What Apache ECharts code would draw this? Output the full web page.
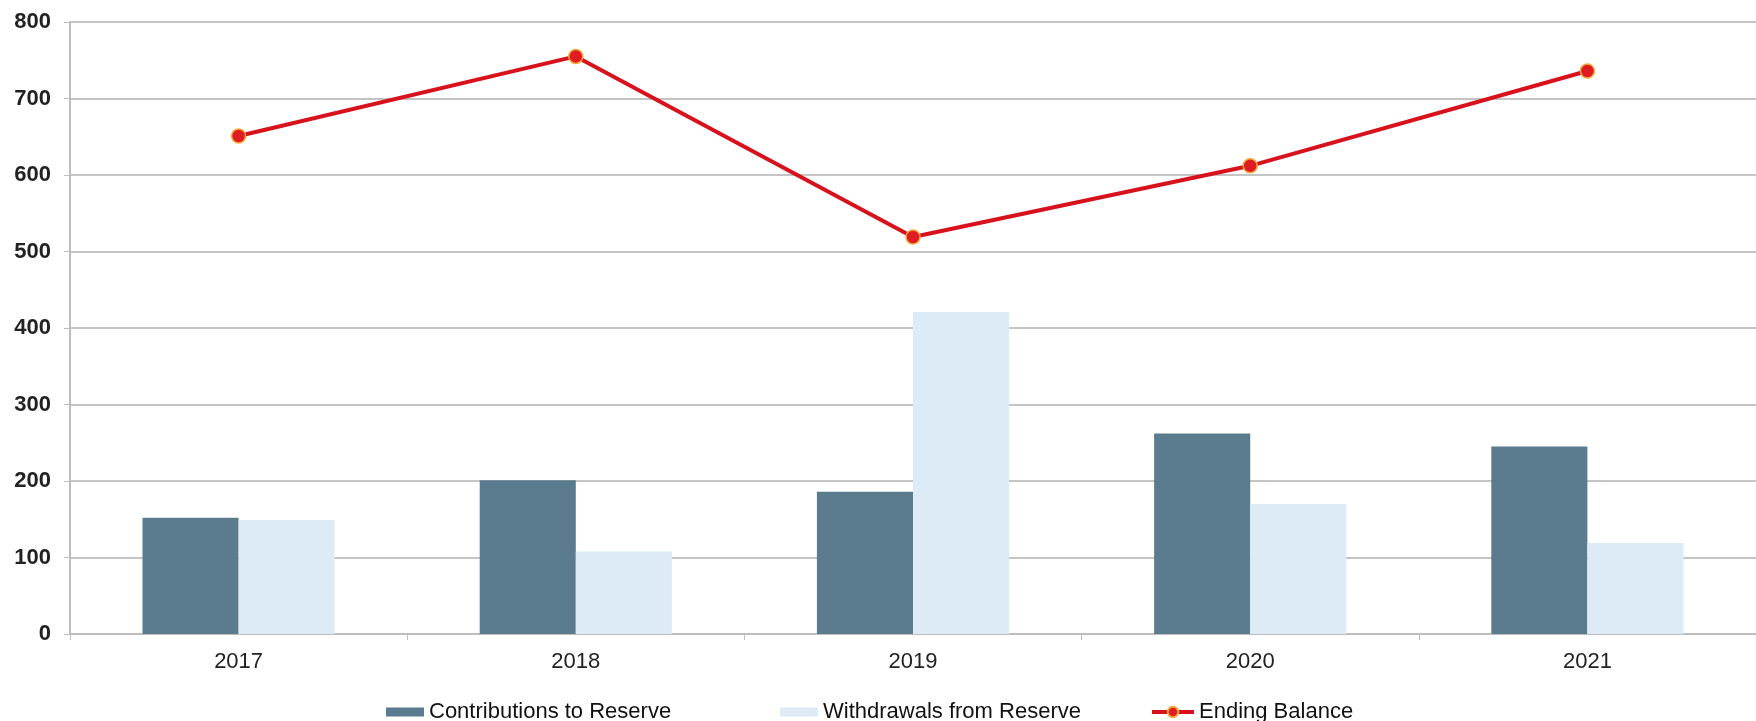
<!DOCTYPE html>
<html>
<head>
<meta charset="utf-8">
<script src="https://cdn.jsdelivr.net/npm/echarts@6/dist/echarts.min.js"></script>
<style>
  html, body { margin: 0; padding: 0; background: #ffffff; }
  #chart { width: 1756px; height: 721px; }
</style>
</head>
<body>
<div id="chart"></div>
<script>
const years = ['2017', '2018', '2019', '2020', '2021'];
const contributions = [152, 201, 186, 262, 245];
const withdrawals = [149, 108, 421, 170, 119];
const endingBalance = [651, 755, 519, 612, 736];

const chart = echarts.init(document.getElementById('chart'));

const legendText = { color: '#111', fontSize: 22, fontFamily: 'Liberation Sans, Arial, sans-serif' };

const option = {
    animation: false,
    backgroundColor: '#ffffff',
    grid: { left: 70, right: 0, top: 22, bottom: 87 },
    legend: [
        { data: [{ name: 'Contributions to Reserve', icon: 'rect' }], left: 381, top: 696, itemWidth: 38, itemHeight: 9, textStyle: legendText },
        { data: [{ name: 'Withdrawals from Reserve', icon: 'rect' }], left: 775, top: 696, itemWidth: 38, itemHeight: 9, textStyle: legendText },
        { data: ['Ending Balance'], left: 1145, top: 696, itemWidth: 42, itemHeight: 13, lineStyle: { width: 4 }, textStyle: legendText }
    ],
    xAxis: {
        type: 'category',
        data: years,
        axisLine: { lineStyle: { color: '#bdbdbd', width: 2 } },
        axisTick: { show: true, length: 6, lineStyle: { color: '#bdbdbd' } },
        axisLabel: { color: '#222', fontSize: 22, margin: 17, fontFamily: 'Liberation Sans, Arial, sans-serif' }
    },
    yAxis: {
        type: 'value',
        min: 0,
        max: 800,
        interval: 100,
        axisLine: { show: true, lineStyle: { color: '#bdbdbd', width: 2 } },
        axisTick: { show: true, length: 6, lineStyle: { color: '#bdbdbd' } },
        splitLine: { lineStyle: { color: '#c4c4c4', width: 2 } },
        axisLabel: { color: '#222', fontSize: 22, fontWeight: 'bold', margin: 19, fontFamily: 'Liberation Sans, Arial, sans-serif' }
    },
    series: [
        {
            name: 'Contributions to Reserve',
            type: 'bar',
            data: contributions,
            barGap: '0%',
            barCategoryGap: '43%',
            itemStyle: { color: '#5b7c8f' }
        },
        {
            name: 'Withdrawals from Reserve',
            type: 'bar',
            data: withdrawals,
            itemStyle: { color: '#dcebf5' }
        },
        {
            name: 'Ending Balance',
            type: 'line',
            data: endingBalance,
            symbol: 'circle',
            symbolSize: 14,
            lineStyle: { color: '#d8121c', width: 4 },
            itemStyle: { color: '#e01b22', borderColor: '#f2a93b', borderWidth: 1.5 },
            z: 5
        }
    ]
};

chart.setOption(option);
</script>
</body>
</html>
